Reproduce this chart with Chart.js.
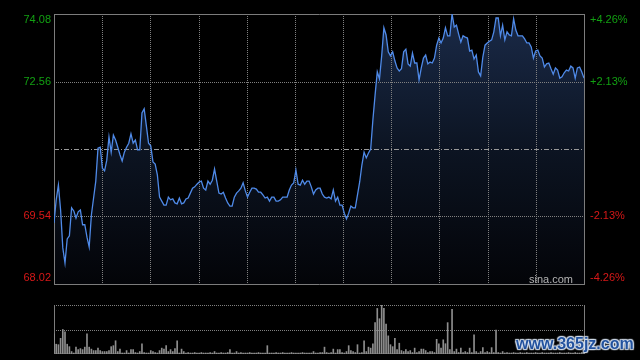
<!DOCTYPE html>
<html><head><meta charset="utf-8">
<script src="https://cdn.jsdelivr.net/npm/chart.js@4.4.1/dist/chart.umd.min.js"></script>
<style>
html,body{margin:0;padding:0;background:#000;width:640px;height:360px;overflow:hidden}
#wrap{position:relative;width:640px;height:360px;background:#000}
#pc{position:absolute;left:0;top:0}
#vc{position:absolute;left:0;top:290px}
#wm{position:absolute;left:516px;top:335px;font:bold 16px "Liberation Sans",Arial,sans-serif;color:#22529e;letter-spacing:0;
text-shadow:0 0 1px #e6eef8,0 0 2px #e6eef8,1px 1px 1px #c8d4e4,-1px -1px 1px #c8d4e4,1px -1px 1px #c8d4e4,-1px 1px 1px #c8d4e4;}
</style></head>
<body><div id="wrap">
<canvas id="pc" width="640" height="290"></canvas>
<canvas id="vc" width="640" height="70"></canvas>
<div id="wm">www.365jz.com</div>
</div>
<script>
const prevClose = 71.05;
const priceTicks = [74.08, 72.56, 71.05, 69.54, 68.02];
const priceTickLabels = ['74.08', '72.56', '', '69.54', '68.02'];
const pctTickLabels = ['+4.26%', '+2.13%', '', '-2.13%', '-4.26%'];
const timeDivisions = 11;
const sourceLabel = 'sina.com';

const prices = [
69.39,69.91,70.24,69.68,68.83,68.49,69.03,69.10,69.73,69.66,
69.50,69.64,69.68,69.35,69.35,69.07,68.85,69.57,69.95,70.33,
71.07,71.09,70.62,70.56,70.80,71.32,70.98,71.36,71.25,71.09,
70.92,70.78,70.98,71.09,71.18,71.39,71.18,71.25,71.03,71.03,
71.86,71.95,71.57,71.18,71.12,70.76,70.71,70.47,69.97,69.88,
69.79,69.79,69.97,69.91,69.93,69.84,69.82,69.95,69.82,69.84,
69.93,69.95,70.06,70.17,70.20,70.26,70.31,70.33,70.17,70.13,
70.33,70.26,70.35,70.60,70.33,70.06,70.04,70.08,69.95,69.84,
69.77,69.77,69.97,70.06,70.11,70.17,70.29,70.11,69.97,70.08,
70.17,70.17,70.15,70.08,70.08,70.02,69.95,69.97,69.88,69.97,
69.97,69.88,69.88,69.91,69.97,69.97,69.97,70.13,70.24,70.29,
70.58,70.26,70.24,70.35,70.26,70.33,70.33,70.20,70.04,70.13,
70.17,70.17,70.04,69.97,69.95,69.97,69.93,70.13,69.88,69.97,
69.79,69.79,69.61,69.48,69.61,69.77,69.73,69.73,70.02,70.31,
70.69,70.98,70.85,70.96,71.05,71.70,72.26,72.78,72.62,73.14,
73.77,73.61,73.23,73.14,73.23,73.03,72.87,72.80,72.85,73.23,
73.29,72.96,72.91,73.20,72.98,72.98,72.60,72.87,73.09,73.16,
72.96,73.00,72.98,73.09,73.38,73.54,73.43,73.54,73.77,73.59,
73.59,74.08,73.79,73.83,73.63,73.45,73.59,73.56,73.54,73.25,
73.27,73.07,73.16,72.78,72.69,73.11,73.38,73.43,73.47,73.50,
73.68,73.99,73.99,73.59,73.83,73.50,73.68,73.61,73.59,73.97,
73.72,73.59,73.59,73.59,73.52,73.43,73.43,73.34,73.09,73.25,
73.27,73.14,73.09,72.89,72.96,72.98,72.85,72.73,72.87,72.82,
72.64,72.67,72.76,72.82,72.80,72.91,72.87,72.64,72.87,72.89,
72.78,72.64
];

const volumes = [
41,20,19,32,50,45,20,15,5,2,
14,9,11,9,14,41,14,10,7,7,
12,7,5,5,5,7,15,17,27,5,
10,2,2,7,2,9,9,3,2,5,
21,3,2,2,7,5,3,2,7,12,
10,17,5,9,5,11,27,2,10,5,
2,3,2,2,3,2,2,3,2,2,
2,3,2,5,2,2,3,2,2,3,
9,2,2,5,2,3,2,2,2,3,
2,2,2,3,2,2,2,17,2,2,
2,3,2,2,3,2,2,2,3,2,
2,2,2,3,2,2,2,2,5,2,
2,3,3,14,3,2,3,10,2,9,
9,3,2,5,17,7,5,3,19,2,
3,27,5,14,12,21,64,93,72,100,
93,61,37,19,15,32,9,22,7,5,
9,5,7,3,12,3,5,10,10,7,
3,5,5,3,30,21,12,29,21,64,
9,91,5,10,3,12,3,5,3,12,
3,39,5,2,5,13,3,5,3,13,
3,49,3,2,5,2,3,2,2,3,
2,2,3,2,2,3,2,2,2,3,
2,2,3,2,2,2,3,2,2,2,
3,2,2,2,3,2,2,3,2,2,
3,2
];

const upColor = '#12a012';
const downColor = '#d81818';
const borderColor = '#7c7c7c';
const dotColor = '#808080';
const FONT = '11px "Liberation Sans", Arial, sans-serif';

function hline(ctx, x1, x2, y){ const py = Math.round(y) + 0.5; ctx.beginPath(); ctx.moveTo(x1, py); ctx.lineTo(x2, py); ctx.stroke(); }
function vline(ctx, x, y1, y2){ const px = Math.round(x) + 0.5; ctx.beginPath(); ctx.moveTo(px, y1); ctx.lineTo(px, y2); ctx.stroke(); }

const priceGrid = {
  id: 'priceGrid',
  beforeDatasetsDraw(chart){
    const {ctx, chartArea: a, scales: {x, y}} = chart;
    ctx.save();
    ctx.lineWidth = 1;
    ctx.strokeStyle = dotColor;
    ctx.setLineDash([1, 1]);
    for (let k = 1; k < timeDivisions; k++) {
      vline(ctx, x.getPixelForValue(k * x.max / timeDivisions), a.top, a.bottom);
    }
    priceTicks.forEach(v => {
      if (v === priceTicks[0] || v === priceTicks[priceTicks.length - 1] || v === prevClose) return;
      hline(ctx, a.left, a.right, y.getPixelForValue(v));
    });
    ctx.strokeStyle = '#9a9a9a';
    ctx.setLineDash([5, 2, 1, 2]);
    hline(ctx, a.left, a.right, y.getPixelForValue(prevClose));
    ctx.setLineDash([]);
    ctx.strokeStyle = borderColor;
    hline(ctx, a.left, a.right + 1, a.top);
    hline(ctx, a.left, a.right + 1, a.bottom);
    vline(ctx, a.left, a.top, a.bottom);
    vline(ctx, a.right, a.top, a.bottom);
    ctx.restore();
  },
  afterDraw(chart){
    const {ctx, chartArea: a, scales: {y}} = chart;
    ctx.save();
    ctx.font = FONT;
    ctx.textBaseline = 'middle';
    priceTicks.forEach((v, i) => {
      let py = y.getPixelForValue(v);
      py = Math.min(Math.max(py, a.top + 6), a.bottom - 6);
      ctx.fillStyle = v > prevClose ? upColor : (v < prevClose ? downColor : '#999');
      ctx.textAlign = 'right';
      ctx.fillText(priceTickLabels[i], a.left - 3, py);
      ctx.textAlign = 'left';
      ctx.fillText(pctTickLabels[i], a.right + 6, py);
    });
    ctx.fillStyle = '#b4b4b4';
    ctx.textAlign = 'right';
    ctx.textBaseline = 'alphabetic';
    ctx.fillText(sourceLabel, a.right - 11, a.bottom - 1);
    ctx.restore();
  }
};

const volGrid = {
  id: 'volGrid',
  beforeDatasetsDraw(chart){
    const {ctx, chartArea: a, scales: {y}} = chart;
    ctx.save();
    ctx.lineWidth = 1;
    ctx.strokeStyle = dotColor;
    ctx.setLineDash([1, 1]);
    hline(ctx, a.left, a.right, y.getPixelForValue(y.max));
    hline(ctx, a.left, a.right, y.getPixelForValue(y.max / 2));
    ctx.setLineDash([]);
    ctx.strokeStyle = borderColor;
    vline(ctx, a.left, a.top, a.bottom);
    vline(ctx, a.right, a.top, a.bottom);
    ctx.strokeStyle = '#4a4a4a';
    hline(ctx, a.left, a.right, a.bottom - 1);
    ctx.restore();
  }
};

new Chart(document.getElementById('pc'), {
  type: 'line',
  data: { datasets: [{
    data: prices.map((v, i) => ({x: i, y: v})),
    borderColor: '#4f8ae8',
    borderWidth: 1.3,
    pointRadius: 0,
    tension: 0,
    fill: 'start',
    backgroundColor: (c) => {
      const a = c.chart.chartArea;
      if (!a) return 'rgba(0,0,0,0)';
      const g = c.chart.ctx.createLinearGradient(0, a.top, 0, a.bottom);
      g.addColorStop(0, 'rgb(26,42,72)');
      g.addColorStop(0.5, 'rgb(12,20,34)');
      g.addColorStop(1, 'rgb(3,4,8)');
      return g;
    }
  }]},
  options: {
    responsive: false, animation: false, events: [],
    layout: { padding: {left: 54, right: 56, top: 14, bottom: 6} },
    plugins: { legend: {display: false}, tooltip: {enabled: false}, filler: {drawTime: 'beforeDatasetsDraw'} },
    scales: {
      x: { type: 'linear', min: 0, max: prices.length - 1, display: false },
      y: { min: priceTicks[priceTicks.length - 1], max: priceTicks[0], display: false }
    }
  },
  plugins: [priceGrid]
});

new Chart(document.getElementById('vc'), {
  type: 'bar',
  data: { datasets: [{
    data: volumes.map((v, i) => ({x: i, y: v})),
    backgroundColor: '#8e8e8e',
    barThickness: 1,
    borderWidth: 0
  }]},
  options: {
    responsive: false, animation: false, events: [],
    layout: { padding: {left: 54, right: 56, top: 15, bottom: 6} },
    plugins: { legend: {display: false}, tooltip: {enabled: false} },
    scales: {
      x: { type: 'linear', min: 0, max: volumes.length - 1, offset: false, display: false },
      y: { min: 0, max: Math.max(...volumes), display: false }
    }
  },
  plugins: [volGrid]
});
</script>
</body></html>
